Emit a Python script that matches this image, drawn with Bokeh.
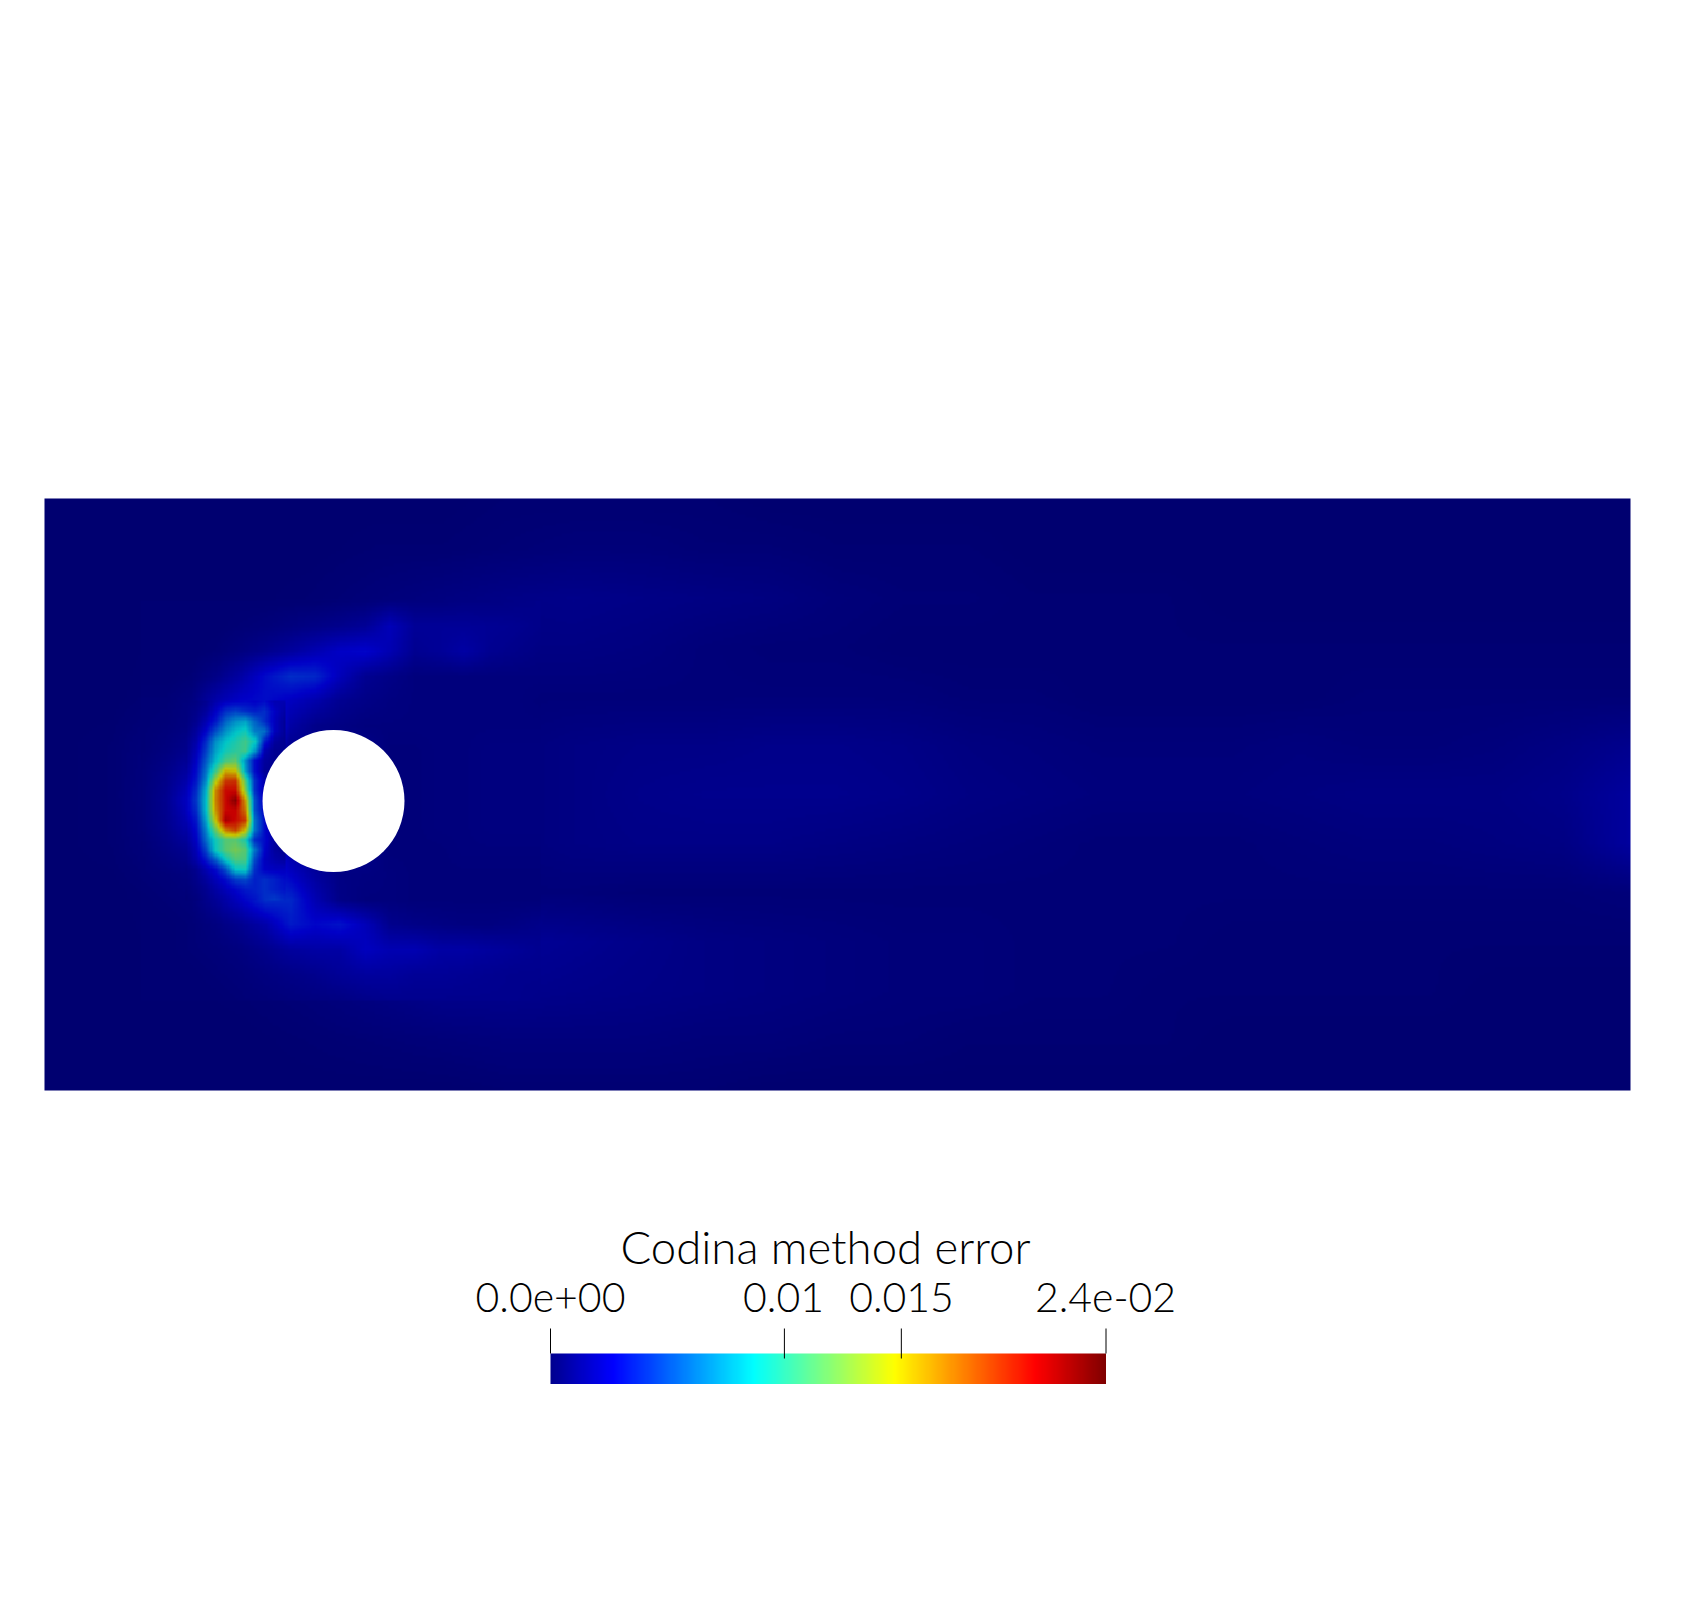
import numpy as np
from bokeh.plotting import figure
from bokeh.models import LinearColorMapper
from bokeh.core.properties import value
from bokeh.embed import file_html
from bokeh.resources import INLINE

# ---- texts and colour bar values ----
TITLE = "Codina method error"
TICK_VALUES = [0.0, 0.01, 0.015, 0.02375]
TICK_LABELS = ["0.0e+00", "0.01", "0.015", "2.4e-02"]
VMAX = 0.02375

# ---- field, in units of 1e-4 ----
# whole domain: page pixel node positions, then one list per row
WIDE_X = [44,110,176,242,308,374,440,506,572,638,704,770,836,902,968,1034,1100,1166,1232,1298,1364,1430,1496,1562,1630]
WIDE_Y = [498,547,597,646,695,744,794,843,892,942,991,1041,1090]
WIDE = [
 [0,0,0,0,0,0,0,1,1,1,1,0,0,0,0,0,0,0,0,0,0,0,0,0,0],
 [0,0,0,0,0,1,1,2,3,3,2,2,1,1,1,0,0,0,0,0,0,0,0,0,0],
 [0,0,0,0,1,3,5,7,8,7,6,5,3,2,2,1,1,1,0,0,0,0,0,0,0],
 [0,0,1,3,14,16,8,6,6,5,3,2,2,1,1,1,1,1,1,1,1,1,1,1,1],
 [0,0,2,18,20,5,4,3,3,3,3,3,3,3,2,2,1,1,1,1,2,2,2,2,2],
 [0,1,6,70,8,3,3,4,6,7,7,8,8,7,5,4,3,3,3,4,3,3,4,6,9],
 [0,1,8,150,8,3,3,4,6,8,9,9,9,8,6,5,4,4,4,5,6,6,6,8,14],
 [0,1,6,90,8,3,3,4,6,7,7,7,6,5,4,3,2,2,2,3,4,4,5,6,14],
 [0,0,2,16,30,8,4,3,3,2,2,2,2,2,2,2,2,2,2,2,2,2,2,2,3],
 [0,0,1,3,12,20,14,12,10,8,6,5,4,3,3,2,2,2,1,1,1,1,1,1,1],
 [0,0,0,1,3,6,9,9,8,7,6,5,4,3,3,2,2,1,1,1,1,1,0,0,0],
 [0,0,0,0,1,2,3,4,4,4,3,3,2,2,1,1,1,1,0,0,0,0,0,0,0],
 [0,0,0,0,0,0,0,1,1,1,1,0,0,0,0,0,0,0,0,0,0,0,0,0,0],
]

# region round the cylinder
NEAR_X = [140,165,190,215,240,265,290,315,340,365,390,415,440,465,490,515,540]
NEAR_Y = [600,625,650,675,700,725,750,775,800,825,850,875,900,925,950,975,1000]
NEAR = [
 [1,1,1,1,1,1,1,1,2,3,5,5,5,6,6,7,8],
 [1,1,1,1,2,3,5,7,9,12,22,12,12,12,11,10,8],
 [1,1,1,2,5,9,14,20,26,28,20,10,12,16,10,8,6],
 [1,1,2,7,16,30,40,38,22,10,7,4,4,4,4,4,4],
 [2,2,5,18,27,30,24,18,10,7,5,4,4,4,4,4,3],
 [2,3,6,40,78,48,16,8,6,4,4,4,4,4,4,4,4],
 [2,5,10,64,104,30,8,8,8,8,3,3,4,4,5,5,5],
 [3,8,18,100,170,40,10,8,8,8,3,3,4,4,5,5,5],
 [3,10,28,150,150,40,10,8,8,8,3,3,4,4,5,5,5],
 [3,9,21,120,150,50,10,8,8,8,3,3,4,4,5,5,5],
 [2,6,11,86,120,40,16,8,8,8,3,3,3,4,4,4,4],
 [2,3,5,26,50,38,26,14,6,5,4,3,3,3,3,3,3],
 [1,2,3,12,25,40,38,20,7,4,4,3,3,3,3,3,3],
 [1,1,2,5,10,18,34,28,32,22,9,7,6,5,5,6,8],
 [1,1,2,3,5,9,14,16,16,24,20,20,16,16,14,12,10],
 [1,1,1,2,3,5,7,9,12,14,14,12,12,11,10,9,9],
 [1,1,1,1,2,3,4,5,6,8,9,9,9,9,9,9,8],
]

# hot crescent
CORE_X = [185,195,205,215,225,235,245,255,265,275,285]
CORE_Y = [700,710,720,730,740,750,760,770,780,790,800,810,820,830,840,850,860,870,880,890,900]
CORE = [
 [4,6,10,18,24,26,28,26,30,20,20],
 [5,8,14,26,40,46,40,36,40,26,16],
 [5,10,20,34,56,70,76,56,40,24,12],
 [6,14,28,50,70,84,92,64,60,24,12],
 [8,18,40,70,85,95,106,90,36,14,10],
 [9,22,46,76,92,100,106,72,20,10,10],
 [11,26,54,84,108,116,70,30,14,10,10],
 [14,30,62,106,155,150,75,30,12,10,10],
 [18,34,70,140,190,192,110,40,18,10,10],
 [22,40,82,168,205,205,125,40,18,10,10],
 [24,44,86,170,205,228,160,50,20,10,10],
 [24,40,86,165,205,208,172,50,25,10,10],
 [20,34,78,150,218,205,190,60,30,12,10],
 [16,30,68,120,172,188,150,60,30,12,10],
 [13,26,60,92,112,114,96,40,30,14,10],
 [10,22,48,90,112,122,112,60,28,14,10],
 [8,18,34,56,88,110,108,48,24,18,14],
 [5,10,20,30,50,86,90,40,26,24,24],
 [4,8,14,22,30,44,48,36,40,36,30],
 [3,6,10,16,22,28,34,36,40,36,32],
 [2,4,8,12,16,22,28,32,40,44,38],
]

# ---- page geometry ----
FIG_W, FIG_H = 1670, 1590
PX = 142.0                      # page pixels per cylinder diameter
X0, Y0 = 44.0, 1090.0           # lower left corner of the channel on the page
def dx(px): return (np.asarray(px, float) - X0) / PX
def dy(py): return (Y0 - np.asarray(py, float)) / PX

# ---- colour maps: ParaView "jet", the field is additionally shaded by the light ----
STOPS = [0, 0.1111, 0.3651, 0.4921, 0.6190, 0.8730, 1.0]
R = [0, 0, 0, 0.5, 1, 1, 0.5]
G = [0, 0, 1, 1, 1, 0, 0]
B = [0.5625, 1, 1, 0.5, 0, 0, 0]
def jet(shade, n=512):
    t = np.linspace(0, 1, n)
    c = np.stack([np.interp(t, STOPS, ch) for ch in (R, G, B)], axis=1) * shade * 255
    return ["#%02x%02x%02x" % tuple(int(round(v)) for v in row) for row in c]

field_map = LinearColorMapper(palette=jet(0.78), low=0, high=VMAX * 1e4)
bar_map = LinearColorMapper(palette=jet(1.0), low=0, high=VMAX * 1e4)

p = figure(width=FIG_W, height=FIG_H, output_backend="svg", toolbar_location=None,
           x_range=(dx(0), dx(FIG_W)), y_range=(dy(FIG_H), dy(0)),
           min_border=0, background_fill_color="white", border_fill_color="white",
           outline_line_color=None)
p.axis.visible = False
p.grid.visible = False

# scalars are shaded between the nodes before colour mapping, as the original renderer does
def shade(table, xs, ys, fx, fy):
    t = np.asarray(table, float)
    u = np.linspace(0, len(xs) - 1, (len(xs) - 1) * fx + 1)
    v = np.linspace(0, len(ys) - 1, (len(ys) - 1) * fy + 1)
    a = np.stack([np.interp(u, np.arange(t.shape[1]), r) for r in t])
    a = np.stack([np.interp(v, np.arange(t.shape[0]), c) for c in a.T], axis=1)
    return a[::-1]   # first row of an image is the bottom one

for table, xs, ys, fx, fy in [(WIDE, WIDE_X, WIDE_Y, 24, 18),
                              (NEAR, NEAR_X, NEAR_Y, 10, 10),
                              (CORE, CORE_X, CORE_Y, 4, 4)]:
    p.image(image=[shade(table, xs, ys, fx, fy)],
            x=[float(dx(xs[0]))], y=[float(dy(ys[-1]))],
            dw=[float(dx(xs[-1]) - dx(xs[0]))], dh=[float(dy(ys[0]) - dy(ys[-1]))],
            color_mapper=field_map)

# the cylinder hole
p.circle(x=[float(dx(333))], y=[float(dy(800.5))], radius=71 / PX,
         fill_color="white", line_color=None)

# ---- colour bar ----
BAR_L, BAR_R, BAR_T, BAR_B = 550.0, 1105.5, 1353.0, 1383.5
bar_x = lambda val: BAR_L + (np.asarray(val, float) / VMAX) * (BAR_R - BAR_L)
ramp = np.linspace(0, VMAX * 1e4, 512).reshape(1, -1)
p.image(image=[ramp], x=[float(dx(BAR_L))], y=[float(dy(BAR_B))],
        dw=[float(dx(BAR_R) - dx(BAR_L))], dh=[float(dy(BAR_T) - dy(BAR_B))],
        color_mapper=bar_map)

tx = bar_x(TICK_VALUES)
tick_bottom = [1353, 1358, 1358, 1353]
p.segment(x0=dx(tx).tolist(), x1=dx(tx).tolist(),
          y0=dy([1328] * 4).tolist(), y1=dy(tick_bottom).tolist(),
          line_color="black", line_width=1)

FONT = "Lato Light"
p.text(x=dx([550, 783, 901, 1105]).tolist(), y=dy([1297] * 4).tolist(), text=TICK_LABELS,
       text_font=value(FONT), text_font_size="41px", text_color="black",
       text_align="center", text_baseline="middle")
p.text(x=[float(dx(825))], y=[float(dy(1246))], text=[TITLE],
       text_font=value(FONT), text_font_size="45.5px", text_color="black",
       text_align="center", text_baseline="middle")

open("out.html", "w").write(file_html(p, INLINE))
